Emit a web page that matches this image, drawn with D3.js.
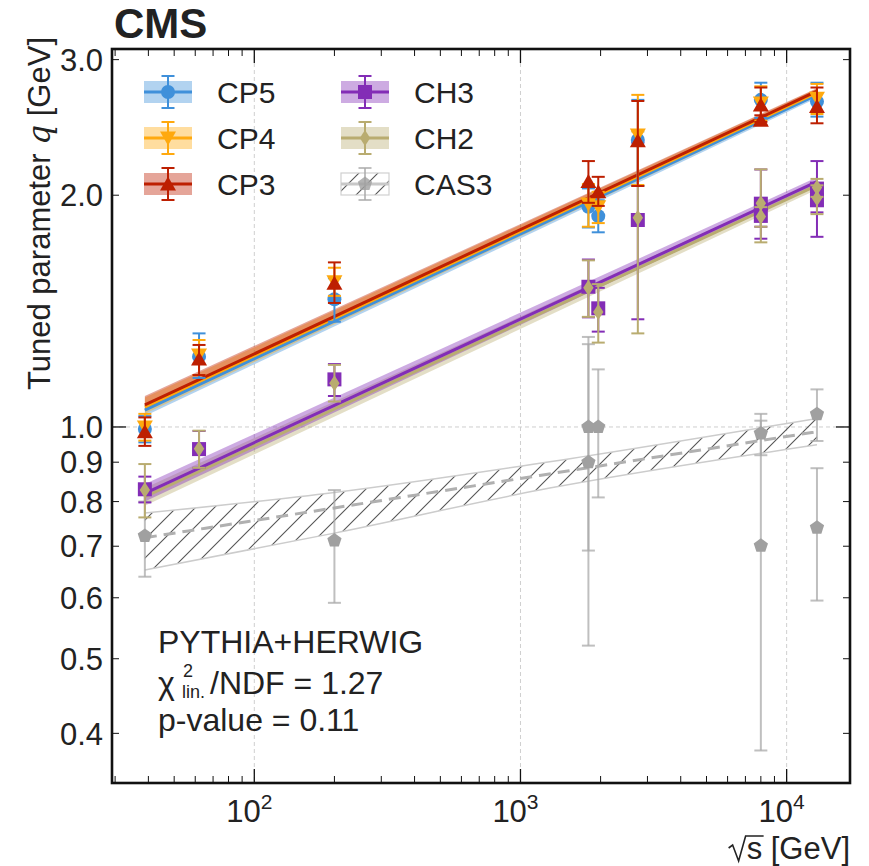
<!DOCTYPE html>
<html>
<head>
<meta charset="utf-8">
<script src="https://cdn.jsdelivr.net/npm/d3@7"></script>
<style>
body { margin: 0; background: #fff; }
text { font-family: "Liberation Sans", Arial, sans-serif; fill: #222; }
</style>
</head>
<body>
<script>
// measured points: sqrt(s) [GeV], tuned q [GeV], lower / upper end of the error bar
let cp5E  = [38.8, 62, 200, 1800, 1960, 2760, 8000, 13000],
    cp5Q  = [0.994, 1.234, 1.465, 1.932, 1.879, 2.359, 2.66, 2.646],
    cp5Lo = [0.955, 1.158, 1.37, 1.816, 1.79, 2.056, 2.52, 2.53],
    cp5Hi = [1.033, 1.323, 1.56, 2.041, 1.97, 2.66, 2.80, 2.80];

let cp4E  = [38.8, 62, 200, 1800, 1960, 2760, 8000, 13000],
    cp4Q  = [1.0, 1.24, 1.544, 1.948, 1.932, 2.394, 2.635, 2.673],
    cp4Lo = [0.96, 1.168, 1.48, 1.82, 1.84, 2.062, 2.50, 2.55],
    cp4Hi = [1.04, 1.297, 1.61, 2.068, 2.02, 2.70, 2.77, 2.79];

let cp3E  = [38.8, 62, 200, 1800, 1960, 2760, 8000, 8000, 13000],
    cp3Q  = [0.986, 1.225, 1.537, 2.083, 2.021, 2.353, 2.62, 2.503, 2.607],
    cp3Lo = [0.945, 1.168, 1.449, 1.955, 1.937, 2.056, 2.49, 2.47, 2.48],
    cp3Hi = [1.029, 1.278, 1.636, 2.215, 2.113, 2.651, 2.76, 2.54, 2.76];

let ch3E  = [38.8, 62, 200, 1800, 1960, 2760, 8000, 8000, 13000, 13000],
    ch3Q  = [0.830, 0.936, 1.153, 1.521, 1.426, 1.857, 1.95, 1.88, 2.04, 1.97],
    ch3Lo = [0.798, 0.885, 1.097, 1.388, 1.33, 1.38, 1.756, 1.82, 1.766, 1.90],
    ch3Hi = [0.862, 0.988, 1.207, 1.65, 1.516, 2.34, 2.16, 1.94, 2.215, 2.04];

let ch2E  = [38.8, 62, 200, 1800, 1960, 2760, 8000, 8000, 13000, 13000],
    ch2Q  = [0.828, 0.937, 1.14, 1.516, 1.41, 1.87, 1.952, 1.876, 2.047, 1.982],
    ch2Lo = [0.763, 0.885, 1.079, 1.39, 1.287, 1.323, 1.737, 1.82, 1.99, 1.89],
    ch2Hi = [0.895, 0.989, 1.204, 1.646, 1.533, 2.42, 2.161, 1.93, 2.10, 2.06];

let cas3E  = [38.8, 200, 1800, 1800, 1960, 8000, 8000, 13000, 13000],
    cas3Q  = [0.722, 0.712, 1.0, 0.9, 1.0, 0.981, 0.701, 1.039, 0.740],
    cas3Lo = [0.639, 0.591, 0.691, 0.52, 0.81, 0.919, 0.38, 0.959, 0.595],
    cas3Hi = [0.80, 0.828, 1.309, 1.281, 1.188, 1.04, 1.019, 1.119, 0.884];

// power-law fits (straight in log-log), read at the ends of the range
let fitE = [38.8, 13000],
    cp5Fit = [1.052, 2.700], cp5FitLo = [1.033, 2.675], cp5FitHi = [1.071, 2.725],
    cp4Fit = [1.062, 2.718], cp4FitLo = [1.040, 2.690], cp4FitHi = [1.092, 2.750],
    cp3Fit = [1.068, 2.730], cp3FitLo = [1.050, 2.710], cp3FitHi = [1.097, 2.755],
    ch3Fit = [0.820, 2.083], ch3FitLo = [0.800, 2.060], ch3FitHi = [0.843, 2.110],
    ch2Fit = [0.812, 2.060], ch2FitLo = [0.790, 2.035], ch2FitHi = [0.833, 2.085];

// CAS3 fit band is wider at low energy, read at a few points
let cas3FitE  = [38.8, 200, 1180, 13000],
    cas3Fit   = [0.718, 0.785, 0.865, 0.986],
    cas3FitLo = [0.652, 0.728, 0.828, 0.948],
    cas3FitHi = [0.773, 0.822, 0.897, 1.026];

let yTicks = [0.4, 0.5, 0.6, 0.7, 0.8, 0.9, 1.0, 2.0, 3.0],
    yTickLabels = ["0.4", "0.5", "0.6", "0.7", "0.8", "0.9", "1.0", "2.0", "3.0"],
    xMajor = [100, 1000, 10000],
    xMajorExp = ["2", "3", "4"];

let width = 869, height = 866,
    margins = {top: 49, right: 19, bottom: 83, left: 112};

let svg = d3.select("body").append("svg")
    .attr("width", width)
    .attr("height", height);

let x = d3.scaleLog([29.2, 17300], [margins.left, width - margins.right]);
let y = d3.scaleLog([0.3448, 3.097], [height - margins.bottom, margins.top]);

let tunes = [
    {name: "CAS3", E: cas3E, q: cas3Q, lo: cas3Lo, hi: cas3Hi, color: "#a0a0a0", err: "#a9a9a9", marker: "pentagon"},
    {name: "CH3", E: ch3E, q: ch3Q, lo: ch3Lo, hi: ch3Hi, color: "#832db6", err: "#832db6", marker: "square"},
    {name: "CH2", E: ch2E, q: ch2Q, lo: ch2Lo, hi: ch2Hi, color: "#b9ac70", err: "#b9ac70", marker: "diamond"},
    {name: "CP5", E: cp5E, q: cp5Q, lo: cp5Lo, hi: cp5Hi, color: "#3f90da", err: "#3f90da", marker: "circle"},
    {name: "CP4", E: cp4E, q: cp4Q, lo: cp4Lo, hi: cp4Hi, color: "#ffa90e", err: "#ffa90e", marker: "tridown"},
    {name: "CP3", E: cp3E, q: cp3Q, lo: cp3Lo, hi: cp3Hi, color: "#bd1f01", err: "#bd1f01", marker: "triup"}
];

let fits = [
    {name: "CH2", mid: ch2Fit, lo: ch2FitLo, hi: ch2FitHi, color: "#b9ac70"},
    {name: "CH3", mid: ch3Fit, lo: ch3FitLo, hi: ch3FitHi, color: "#832db6"},
    {name: "CP5", mid: cp5Fit, lo: cp5FitLo, hi: cp5FitHi, color: "#3f90da"},
    {name: "CP4", mid: cp4Fit, lo: cp4FitLo, hi: cp4FitHi, color: "#ffa90e"},
    {name: "CP3", mid: cp3Fit, lo: cp3FitLo, hi: cp3FitHi, color: "#bd1f01"}
];

function markerPath(type) {
    if (type == "circle") return "M7,0A7,7 0 1,1 -7,0A7,7 0 1,1 7,0Z";
    if (type == "triup") return "M0,-7.5L8,6.5L-8,6.5Z";
    if (type == "tridown") return "M0,7.5L8,-6.5L-8,-6.5Z";
    if (type == "square") return "M-7,-7h14v14h-14Z";
    if (type == "diamond") return "M0,-8L5.2,0L0,8L-5.2,0Z";
    // pentagon
    let pts = d3.range(5).map(k => {
        let a = -Math.PI / 2 + k * 2 * Math.PI / 5;
        return [7.5 * Math.cos(a), 7.5 * Math.sin(a)];
    });
    return "M" + pts.join("L") + "Z";
}

// hatch for the CAS3 band
let defs = svg.append("defs");
let hatch = defs.append("pattern")
    .attr("id", "hatch")
    .attr("patternUnits", "userSpaceOnUse")
    .attr("width", 19).attr("height", 19);
hatch.append("path")
    .attr("d", "M0,19L19,0M-5,5L5,-5M14,24L24,14")
    .attr("stroke", "#555").attr("stroke-width", 1.1);

let clip = defs.append("clipPath").attr("id", "plotArea");
clip.append("rect")
    .attr("x", margins.left).attr("y", margins.top)
    .attr("width", width - margins.left - margins.right)
    .attr("height", height - margins.top - margins.bottom);

// grid lines (major decades only)
let grid = svg.append("g").attr("stroke", "#cfcfcf").attr("stroke-width", 1).attr("stroke-dasharray", "4,3");
xMajor.forEach(v => {
    grid.append("line").attr("x1", x(v)).attr("x2", x(v))
        .attr("y1", margins.top).attr("y2", height - margins.bottom);
});
grid.append("line").attr("x1", margins.left).attr("x2", width - margins.right)
    .attr("y1", y(1)).attr("y2", y(1));

let plot = svg.append("g").attr("clip-path", "url(#plotArea)");

// CAS3 band
let casPts = cas3FitE.map((e, i) => ({e: e, m: cas3Fit[i], lo: cas3FitLo[i], hi: cas3FitHi[i]}));
plot.append("path")
    .datum(casPts)
    .attr("fill", "url(#hatch)")
    .attr("d", d3.area().x(d => x(d.e)).y0(d => y(d.lo)).y1(d => y(d.hi)).curve(d3.curveMonotoneX));
["lo", "hi"].forEach(k => {
    plot.append("path").datum(casPts)
        .attr("fill", "none").attr("stroke", "#cccccc").attr("stroke-width", 1.5)
        .attr("d", d3.line().x(d => x(d.e)).y(d => y(d[k])).curve(d3.curveMonotoneX));
});
plot.append("path").datum(casPts)
    .attr("fill", "none").attr("stroke", "#b0b0b0").attr("stroke-width", 3)
    .attr("stroke-dasharray", "12,7")
    .attr("d", d3.line().x(d => x(d.e)).y(d => y(d.m)).curve(d3.curveMonotoneX));

// fit bands and lines
fits.forEach(f => {
    let pts = fitE.map((e, i) => ({e: e, m: f.mid[i], lo: f.lo[i], hi: f.hi[i]}));
    plot.append("path").datum(pts)
        .attr("fill", f.color).attr("fill-opacity", 0.4)
        .attr("d", d3.area().x(d => x(d.e)).y0(d => y(d.lo)).y1(d => y(d.hi)));
});
fits.forEach(f => {
    let pts = fitE.map((e, i) => ({e: e, m: f.mid[i]}));
    plot.append("path").datum(pts)
        .attr("fill", "none").attr("stroke", f.color).attr("stroke-width", 3)
        .attr("d", d3.line().x(d => x(d.e)).y(d => y(d.m)));
});

// data points with error bars
tunes.forEach(t => {
    let g = plot.append("g").attr("class", "tune " + t.name);
    let rows = t.E.map((e, i) => ({e: e, q: t.q[i], lo: t.lo[i], hi: t.hi[i]}));
    let op = t.name == "CAS3" ? 0.75 : 1;
    let bars = g.selectAll(".bar").data(rows).enter().append("g")
        .attr("stroke", t.err).attr("stroke-width", 2).attr("stroke-opacity", op);
    bars.append("line")
        .attr("x1", d => x(d.e)).attr("x2", d => x(d.e))
        .attr("y1", d => y(d.lo)).attr("y2", d => y(d.hi));
    ["lo", "hi"].forEach(k => {
        bars.append("line")
            .attr("x1", d => x(d.e) - 6.5).attr("x2", d => x(d.e) + 6.5)
            .attr("y1", d => y(d[k])).attr("y2", d => y(d[k]));
    });
    g.selectAll(".marker").data(rows).enter().append("path")
        .attr("d", markerPath(t.marker))
        .attr("transform", d => `translate(${x(d.e)},${y(d.q)})`)
        .attr("fill", t.color);
});

// frame and ticks (inward, all four sides)
let axes = svg.append("g").attr("stroke", "#111");
let xMinor = x.ticks().filter(v => xMajor.indexOf(v) < 0 && v >= 29.2 && v <= 17300);
let x0 = margins.left, x1 = width - margins.right, y0 = height - margins.bottom, y1 = margins.top;
xMajor.forEach(v => {
    axes.append("line").attr("x1", x(v)).attr("x2", x(v)).attr("y1", y0).attr("y2", y0 - 14).attr("stroke-width", 1.3);
    axes.append("line").attr("x1", x(v)).attr("x2", x(v)).attr("y1", y1).attr("y2", y1 + 14).attr("stroke-width", 1.3);
});
xMinor.forEach(v => {
    axes.append("line").attr("x1", x(v)).attr("x2", x(v)).attr("y1", y0).attr("y2", y0 - 7).attr("stroke-width", 1);
    axes.append("line").attr("x1", x(v)).attr("x2", x(v)).attr("y1", y1).attr("y2", y1 + 7).attr("stroke-width", 1);
});
yTicks.forEach(v => {
    let len = v == 1 ? 14 : 7;
    axes.append("line").attr("x1", x0).attr("x2", x0 + len).attr("y1", y(v)).attr("y2", y(v)).attr("stroke-width", v == 1 ? 1.3 : 1);
    axes.append("line").attr("x1", x1).attr("x2", x1 - len).attr("y1", y(v)).attr("y2", y(v)).attr("stroke-width", v == 1 ? 1.3 : 1);
});
svg.append("rect")
    .attr("x", x0).attr("y", y1).attr("width", x1 - x0).attr("height", y0 - y1)
    .attr("fill", "none").attr("stroke", "#111").attr("stroke-width", 2.6);

// tick labels
svg.append("g").selectAll("text").data(yTicks).enter().append("text")
    .attr("x", x0 - 9).attr("y", d => y(d)).attr("dy", "0.36em")
    .attr("text-anchor", "end").attr("font-size", 31)
    .text((d, i) => yTickLabels[i]);

let xl = svg.append("g").selectAll("text").data(xMajor).enter().append("text")
    .attr("x", d => x(d) - 5).attr("y", y0 + 39)
    .attr("text-anchor", "middle").attr("font-size", 31)
    .style("font-family", "'Liberation Sans Narrow', 'Liberation Sans', sans-serif");
xl.append("tspan").text("10");
xl.append("tspan").attr("dy", -13).attr("font-size", 21).text((d, i) => xMajorExp[i]);

// axis titles
let yt = svg.append("text")
    .attr("transform", `translate(50, ${margins.top - 12}) rotate(-90)`)
    .attr("text-anchor", "end").attr("font-size", 31);
yt.append("tspan").text("Tuned parameter ");
yt.append("tspan").attr("font-style", "italic").attr("font-family", "'DejaVu Serif', serif").text("q");
yt.append("tspan").text(" [GeV]");

// x title: radical drawn by hand over the "s"
let xt = svg.append("text")
    .attr("x", x1).attr("y", 859).attr("text-anchor", "end").attr("font-size", 31)
    .text("s [GeV]");
let xtLen = xt.node().getComputedTextLength();
let sx = x1 - xtLen;
svg.append("path")
    .attr("d", `M${sx - 18},848L${sx - 14},845L${sx - 8},861L${sx - 1},836L${sx + 17},836`)
    .attr("fill", "none").attr("stroke", "#222").attr("stroke-width", 1.6)
    .attr("stroke-linejoin", "miter");

svg.append("text")
    .attr("x", 114).attr("y", 38).attr("font-size", 42).attr("font-weight", "bold")
    .text("CMS");

// annotation
let note = svg.append("g").attr("font-size", 32);
note.append("text").attr("x", 158).attr("y", 653).text("PYTHIA+HERWIG");
note.append("text").attr("x", 158).attr("y", 694).text("\u03c7");
note.append("text").attr("x", 183).attr("y", 677).attr("font-size", 18).text("2");
note.append("text").attr("x", 182).attr("y", 698).attr("font-size", 18).text("lin.");
note.append("text").attr("x", 210).attr("y", 694).text("/NDF = 1.27");
note.append("text").attr("x", 158).attr("y", 731).text("p-value = 0.11");

// legend
let legendItems = [
    {name: "CP5", col: 0, row: 0}, {name: "CP4", col: 0, row: 1}, {name: "CP3", col: 0, row: 2},
    {name: "CH3", col: 1, row: 0}, {name: "CH2", col: 1, row: 1}, {name: "CAS3", col: 1, row: 2}
];
legendItems.forEach(item => {
    let t = tunes.find(d => d.name == item.name);
    let cx = 168 + item.col * 197, cy = 92 + item.row * 46;
    let g = svg.append("g");
    if (t.name == "CAS3") {
        g.append("rect").attr("x", cx - 24).attr("y", cy - 11).attr("width", 48).attr("height", 22)
            .attr("fill", "url(#hatch)").attr("stroke", "#d0d0d0").attr("stroke-width", 1.2);
        g.append("line").attr("x1", cx - 24).attr("x2", cx + 24).attr("y1", cy).attr("y2", cy)
            .attr("stroke", "#c8c8c8").attr("stroke-width", 3);
    } else {
        g.append("rect").attr("x", cx - 24).attr("y", cy - 11).attr("width", 48).attr("height", 22)
            .attr("fill", t.color).attr("fill-opacity", 0.4);
        g.append("line").attr("x1", cx - 24).attr("x2", cx + 24).attr("y1", cy).attr("y2", cy)
            .attr("stroke", t.color).attr("stroke-width", 3);
    }
    let eb = g.append("g").attr("stroke", t.err).attr("stroke-width", 2).attr("stroke-opacity", t.name == "CAS3" ? 0.75 : 1);
    eb.append("line").attr("x1", cx).attr("x2", cx).attr("y1", cy - 16).attr("y2", cy + 16);
    eb.append("line").attr("x1", cx - 6.5).attr("x2", cx + 6.5).attr("y1", cy - 16).attr("y2", cy - 16);
    eb.append("line").attr("x1", cx - 6.5).attr("x2", cx + 6.5).attr("y1", cy + 16).attr("y2", cy + 16);
    g.append("path").attr("d", markerPath(t.marker))
        .attr("transform", `translate(${cx},${cy})`)
        .attr("fill", t.color).attr("fill-opacity", t.name == "CAS3" ? 0.8 : 1);
    svg.append("text").attr("x", cx + 49).attr("y", cy).attr("dy", "0.36em")
        .attr("font-size", 30).text(t.name);
});
</script>
</body>
</html>
